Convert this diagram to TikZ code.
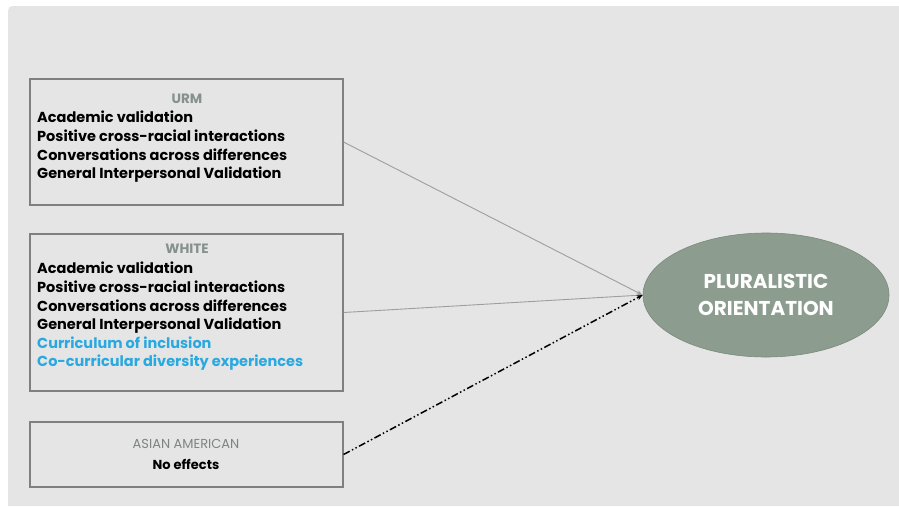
\documentclass[tikz,border=0pt]{standalone}
\usepackage{fontspec}
\setmainfont{Poppins}
\usetikzlibrary{arrows.meta,shapes.geometric}
\definecolor{panel}{HTML}{E5E5E5}
\definecolor{boxline}{HTML}{808080}
\definecolor{headgray}{HTML}{86918D}
\definecolor{asiangray}{HTML}{7C8582}
\definecolor{conn}{HTML}{9E9E9E}
\definecolor{ovalfill}{HTML}{8C9D90}
\definecolor{ovalline}{HTML}{7A8A7D}
\definecolor{skyblue}{HTML}{2AA8E0}
\begin{document}
\begin{tikzpicture}[x=1pt,y=-1pt,
  groupbox/.style={draw=boxline, line width=1.1pt, minimum width=313pt, inner sep=0pt},
  header/.style={text=headgray, font=\bfseries\fontsize{13.5}{15}\selectfont, inner sep=0pt},
  items/.style={align=left, anchor=north west, inner sep=0pt, font=\bfseries\fontsize{14.5}{18.6}\selectfont},
  conline/.style={draw=conn, line width=0.9pt, -{Stealth[length=6pt,width=4pt]}},
  dashline/.style={draw=black, line width=1.5pt, dash pattern=on 7pt off 2.5pt on 1.5pt off 2.5pt on 1.5pt off 2.5pt, -{Stealth[length=6pt,width=5pt]}}]
\useasboundingbox (0,0) rectangle (899,506);
\fill[white] (0,0) rectangle (899,506);
\fill[panel] (8,506) -- (8,16) .. controls (8,6) .. (18,6) -- (899,6) -- (899,506) -- cycle;

\node[groupbox, minimum height=126pt] (urm) at (186.5,142) {};
\node[groupbox, minimum height=157pt] (white) at (186.5,312.5) {};
\node[groupbox, minimum height=65pt] (asian) at (186.5,454.5) {};

\node[header] (urmh) at (187,99) {URM};
\node[items] (urml) at (37,111) {Academic validation\\Positive cross-racial interactions\\Conversations across differences\\General Interpersonal Validation};

\node[header] (whiteh) at (187,249) {WHITE};
\node[items] (whitel) at (37,262) {Academic validation\\Positive cross-racial interactions\\Conversations across differences\\General Interpersonal Validation\\\textcolor{skyblue}{Curriculum of inclusion}\\\textcolor{skyblue}{Co-curricular diversity experiences}};

\node[header, text=asiangray, font=\fontsize{13}{15}\selectfont] (asianh) at (186,444) {ASIAN AMERICAN};
\node[inner sep=0pt, font=\bfseries\fontsize{13}{15}\selectfont] (asianl) at (186,464) {No effects};

\node[ellipse, fill=ovalfill, draw=ovalline, line width=0.6pt, minimum width=246pt, minimum height=124pt, inner sep=0pt, text=white, align=center, font=\bfseries\fontsize{20}{27}\selectfont] (po) at (766,295) {PLURALISTIC\\ORIENTATION};

\draw[conline] (urm.east) -- (po.west);
\draw[conline] (white.east) -- (po.west);
\draw[dashline] (asian.east) -- (po.west);
\end{tikzpicture}
\end{document}
